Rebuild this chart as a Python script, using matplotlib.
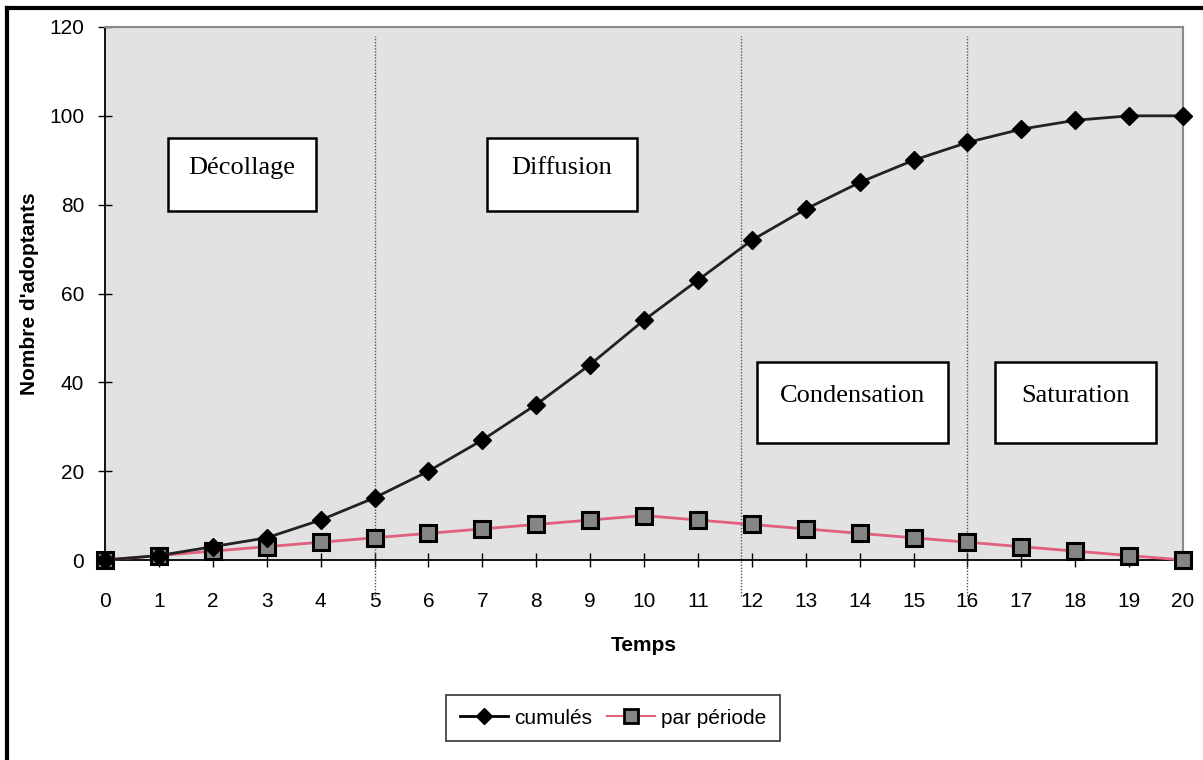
import matplotlib
matplotlib.use("Agg")
import matplotlib.pyplot as plt
from matplotlib.patches import Rectangle
from matplotlib.lines import Line2D

temps = list(range(21))
cumules = [0, 1, 3, 5, 9, 14, 20, 27, 35, 44, 54, 63, 72, 79, 85, 90, 94, 97, 99, 100, 100]
par_periode = [0, 1, 2, 3, 4, 5, 6, 7, 8, 9, 10, 9, 8, 7, 6, 5, 4, 3, 2, 1, 0]
yticks = [0, 20, 40, 60, 80, 100, 120]
phase_limits = [5, 11.8, 16]
phases = ["Décollage", "Diffusion", "Condensation", "Saturation"]

plt.rcParams['font.family'] = ['Liberation Sans', 'DejaVu Sans']
tick_fs = 15

fig = plt.figure(figsize=(12.03, 7.6), dpi=100)
ax = fig.add_axes([105/1203, 1-560/760, (1183-105)/1203, (560-27)/760])
ax.set_facecolor('#e2e2e2')
ax.set_xlim(0, 20)
ax.set_ylim(0, 120)

for s in ['top', 'right']:
    ax.spines[s].set_color('#8a8a8a')
    ax.spines[s].set_linewidth(1.5)
for s in ['left', 'bottom']:
    ax.spines[s].set_color('black')
    ax.spines[s].set_linewidth(1.3)

ax.set_xticks(temps)
ax.set_yticks(yticks)
ax.tick_params(axis='both', direction='inout', length=10, width=1, labelsize=tick_fs, colors='black')
ax.tick_params(axis='x', pad=18)
ax.tick_params(axis='y', pad=10)

for xv in phase_limits:
    ax.plot([xv, xv], [-8, 118], color='#555555', linestyle=(0, (1, 1.2)), linewidth=1, clip_on=False, zorder=2)

ax.plot(temps, par_periode, color='#e0607e', linewidth=2, marker='s', markersize=12,
        markerfacecolor='#858585', markeredgecolor='black', markeredgewidth=2.2, clip_on=False, zorder=4,
        label='par période')
ax.plot(temps, cumules, color='#222222', linewidth=2, marker='D', markersize=9,
        markerfacecolor='black', markeredgecolor='black', clip_on=False, zorder=5, label='cumulés')

boxes = [(1.17, 78.6, 3.91, 95.0), (7.09, 78.6, 9.87, 95.0),
         (12.1, 26.4, 15.64, 44.6), (16.51, 26.4, 19.5, 44.6)]
for name, (x0, y0, x1, y1) in zip(phases, boxes):
    ax.add_patch(Rectangle((x0, y0), x1-x0, y1-y0, facecolor='white', edgecolor='black', linewidth=1.8, zorder=6))
    ax.text((x0+x1)/2, (y0+y1)/2 + 1.5, name, ha='center', va='center', fontsize=19,
            family=['Liberation Serif', 'DejaVu Serif'], zorder=7)

ax.set_xlabel('Temps', fontsize=15, fontweight='bold', labelpad=18)
ax.set_ylabel("Nombre d'adoptants", fontsize=15, fontweight='bold', labelpad=7)

h = [Line2D([], [], color='black', linewidth=2, marker='D', markersize=8, markerfacecolor='black'),
     Line2D([], [], color='#e0607e', linewidth=1.5, marker='s', markersize=10,
            markerfacecolor='#858585', markeredgecolor='black', markeredgewidth=2)]
leg = fig.legend(h, ['cumulés', 'par période'], loc='center', bbox_to_anchor=(613/1203, 1-718/760),
                 ncol=2, fontsize=15, frameon=True, fancybox=False, handlelength=2.3,
                 handletextpad=0.3, columnspacing=0.7, borderpad=0.65)
leg.get_frame().set_edgecolor('black')
leg.get_frame().set_linewidth(1.2)

fig.add_artist(Line2D([7/1203, 1], [1-8/760, 1-8/760], color='black', linewidth=3, transform=fig.transFigure))
fig.add_artist(Line2D([7/1203, 7/1203], [0, 1-8/760], color='black', linewidth=3, transform=fig.transFigure))

fig.savefig('out.png', dpi=100, facecolor='white')
